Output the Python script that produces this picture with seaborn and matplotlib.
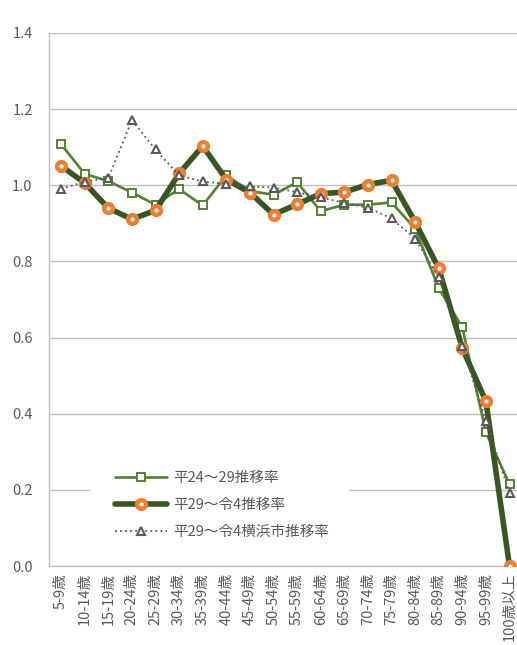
import numpy as np
import pandas as pd
import seaborn as sns
from matplotlib import pyplot as plt

# age groups on the x axis
age_groups = ["5-9歳", "10-14歳", "15-19歳", "20-24歳", "25-29歳", "30-34歳",
              "35-39歳", "40-44歳", "45-49歳", "50-54歳", "55-59歳", "60-64歳",
              "65-69歳", "70-74歳", "75-79歳", "80-84歳", "85-89歳", "90-94歳",
              "95-99歳", "100歳以上"]

# survival rates
rate_h24_h29 = [1.108, 1.030, 1.011, 0.981, 0.949, 0.990, 0.947, 1.026, 0.985, 0.975,
                1.008, 0.932, 0.949, 0.949, 0.955, 0.886, 0.730, 0.627, 0.351, 0.215]
rate_h29_r4 = [1.051, 1.006, 0.940, 0.911, 0.934, 1.031, 1.103, 1.015, 0.981, 0.923,
               0.950, 0.978, 0.982, 1.002, 1.013, 0.904, 0.782, 0.572, 0.433, 0.0]
rate_yokohama = [0.991, 1.009, 1.019, 1.171, 1.094, 1.026, 1.010, 1.004, 0.997, 0.994,
                 0.982, 0.968, 0.954, 0.941, 0.913, 0.860, 0.758, 0.578, 0.381, 0.191]

labels = ["平24～29推移率", "平29～令4推移率", "平29～令4横浜市推移率"]

sns.set_style("white")
plt.rcParams['font.family'] = ['Noto Sans CJK JP', 'DejaVu Sans']

df = pd.DataFrame({
    "pos": np.arange(len(age_groups)),
    "s1": rate_h24_h29,
    "s2": rate_h29_r4,
    "s3": rate_yokohama,
})

fig = plt.figure(figsize=(5.17, 6.45), dpi=100)
ax = fig.add_axes([49.3 / 517, 1 - 566 / 645, 472 / 517, 533 / 645])

text_color = "#595959"
grid_color = "#BFBFBF"

sns.lineplot(data=df, x="pos", y="s1", ax=ax, color="#548235", linewidth=1.9,
             marker="s", markersize=5.3, markerfacecolor="white",
             markeredgecolor="#548235", markeredgewidth=1.4, label=labels[0], zorder=3)
sns.lineplot(data=df, x="pos", y="s2", ax=ax, color="#375623", linewidth=4.0,
             marker="o", markersize=6.3, markerfacecolor="white",
             markeredgecolor="#ED7D31", markeredgewidth=3.2, label=labels[1], zorder=4)
sns.lineplot(data=df, x="pos", y="s3", ax=ax, color="#595959", linewidth=1.3,
             linestyle=(0, (1, 1.8)), marker="^", markersize=5.5, markerfacecolor="white",
             markeredgecolor="#595959", markeredgewidth=1.5, label=labels[2], zorder=5)

# axes
ax.set_xlim(-0.5, len(age_groups) - 0.5)
ax.set_ylim(0, 1.4)
ax.set_yticks(np.arange(0, 1.41, 0.2))
ax.set_yticklabels(["{:.1f}".format(v) for v in np.arange(0, 1.41, 0.2)],
                   fontsize=10.5, color=text_color)
ax.set_xticks(np.arange(len(age_groups)))
ax.set_xticklabels(age_groups, rotation=90, fontsize=10.5, color=text_color, va="top")
ax.set_xticks(np.arange(len(age_groups) + 1) - 0.5, minor=True)
ax.tick_params(axis="x", which="major", length=0, pad=5)
ax.tick_params(axis="x", which="minor", length=5, color=grid_color, width=1)
ax.tick_params(axis="y", length=5, color=grid_color, width=1, pad=7)
ax.set_xlabel("")
ax.set_ylabel("")

ax.yaxis.grid(True, color=grid_color, linewidth=1)
ax.set_axisbelow(True)
for side in ["top", "right"]:
    ax.spines[side].set_visible(False)
for side in ["left", "bottom"]:
    ax.spines[side].set_color(grid_color)
    ax.spines[side].set_linewidth(1)

# legend box with white background, covering the 0.2 gridline
leg_top = 1 - 446 / 645
leg = ax.legend(loc="upper left", bbox_to_anchor=(90 / 517, leg_top - 0.01, 259 / 517, 0.01),
                bbox_transform=fig.transFigure, mode="expand", frameon=True,
                fontsize=10.5, handlelength=3.6, handletextpad=0.4, labelspacing=0.9,
                borderpad=1.7, borderaxespad=0)
leg.get_frame().set_facecolor("white")
leg.get_frame().set_edgecolor("none")
leg.get_frame().set_alpha(1)
leg.set_zorder(10)
for t in leg.get_texts():
    t.set_color(text_color)

fig.savefig("out.png", dpi=100)
